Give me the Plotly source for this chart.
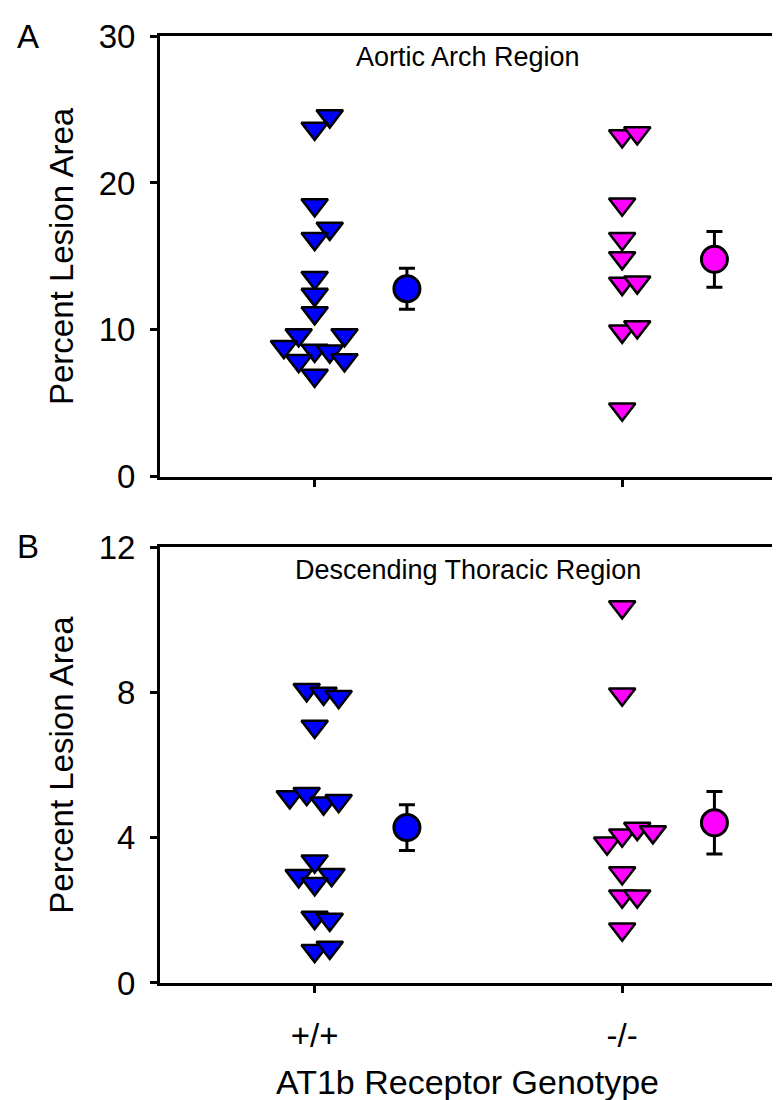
import plotly.graph_objects as go

# ---------------- data ----------------
genotypes = ["+/+", "-/-"]
genotype_pos = [1, 2]
mean_offset = 0.3

# Panel A: Aortic Arch Region (percent lesion area)
arch_wt = [24.55, 23.7, 18.5, 16.9, 16.2, 13.55, 12.4, 11.15, 9.65, 9.65, 8.85, 8.6, 8.55, 7.9, 7.95, 6.9]
arch_wt_jitter = [0.049, 0, 0, 0.049, 0, 0, 0, 0, -0.052, 0.097, -0.1, 0, 0.049, -0.052, 0.097, 0]
arch_ko = [23.2, 23.4, 18.55, 16.2, 14.9, 13.15, 13.25, 9.9, 10.2, 4.6]
arch_ko_jitter = [0, 0.049, 0, 0, 0, 0, 0.049, 0, 0.049, 0]
arch_mean = [12.8, 14.8]
arch_sem = [1.4, 1.9]

# Panel B: Descending Thoracic Region
thor_wt = [8.07, 7.97, 7.88, 7.06, 5.12, 5.21, 4.95, 5.02, 3.35, 2.95, 2.98, 2.73, 1.8, 1.75, 0.89, 0.98]
thor_wt_jitter = [-0.026, 0.029, 0.078, 0, -0.081, -0.026, 0.029, 0.078, 0, -0.052, 0.055, 0, 0, 0.049, 0, 0.049]
thor_ko = [10.35, 7.95, 3.85, 4.07, 4.25, 4.16, 3.03, 2.39, 2.39, 1.48]
thor_ko_jitter = [0, 0, -0.049, 0, 0.049, 0.1, 0, 0, 0.049, 0]
thor_mean = [4.28, 4.41]
thor_sem = [0.63, 0.86]

colors = ["#0000FF", "#FF00FF"]
FONT = "Arial, 'Liberation Sans', sans-serif"

fig = go.Figure()

def add_panel(xa, ya, wt, wtj, ko, koj, means, sems):
    for vals, jit, pos, col in [(wt, wtj, genotype_pos[0], colors[0]),
                                (ko, koj, genotype_pos[1], colors[1])]:
        fig.add_trace(go.Scatter(
            x=[pos + j for j in jit], y=vals, mode="markers",
            xaxis=xa, yaxis=ya, showlegend=False,
            marker=dict(symbol="triangle-down", size=23, color=col,
                        line=dict(color="black", width=2.5))))
    for i in range(2):
        fig.add_trace(go.Scatter(
            x=[genotype_pos[i] + mean_offset], y=[means[i]], mode="markers",
            xaxis=xa, yaxis=ya, showlegend=False,
            error_y=dict(type="data", array=[sems[i]], color="black",
                         thickness=3, width=8),
            marker=dict(symbol="circle", size=26, color=colors[i],
                        line=dict(color="black", width=3))))

add_panel("x2", "y2", arch_wt, arch_wt_jitter, arch_ko, arch_ko_jitter, arch_mean, arch_sem)
add_panel("x", "y", thor_wt, thor_wt_jitter, thor_ko, thor_ko_jitter, thor_mean, thor_sem)

axis_common = dict(showline=True, linecolor="black", linewidth=3, mirror=True,
                   showgrid=False, zeroline=False, ticks="outside", ticklen=7,
                   tickwidth=3, tickcolor="black",
                   tickfont=dict(family=FONT, size=33, color="black"))

fig.update_layout(
    width=780, height=1100,
    margin=dict(l=152, r=10, t=19, b=125),
    paper_bgcolor="white", plot_bgcolor="white",
    font=dict(family=FONT, color="black"),
    xaxis=dict(axis_common, domain=[0, 1], anchor="y", range=[0.497, 2.497],
               tickvals=genotype_pos, ticktext=genotypes, ticklabelstandoff=14,
               title=dict(text="AT1b Receptor Genotype", standoff=18,
                          font=dict(family=FONT, size=34, color="black"))),
    yaxis=dict(axis_common, domain=[0, 0.4603], anchor="x", range=[0, 12],
               tickvals=[0, 4, 8, 12], ticklabelstandoff=8,
               title=dict(text="Percent Lesion Area", standoff=16,
                          font=dict(family=FONT, size=33, color="black"))),
    xaxis2=dict(axis_common, domain=[0, 1], anchor="y2", range=[0.497, 2.497],
                tickvals=genotype_pos, showticklabels=False),
    yaxis2=dict(axis_common, domain=[0.5345, 1], anchor="x2", range=[0, 30],
                tickvals=[0, 10, 20, 30], ticklabelstandoff=8,
                title=dict(text="Percent Lesion Area", standoff=16,
                           font=dict(family=FONT, size=33, color="black"))),
    annotations=[
        dict(text="Aortic Arch Region", xref="paper", yref="paper", x=0.5, y=0.978,
             xanchor="center", yanchor="middle", showarrow=False,
             font=dict(family=FONT, size=27, color="black")),
        dict(text="Descending Thoracic Region", xref="paper", yref="paper", x=0.5, y=0.4363,
             xanchor="center", yanchor="middle", showarrow=False,
             font=dict(family=FONT, size=27, color="black")),
        dict(text="A", xref="paper", yref="paper", x=-0.215, y=0.999,
             xanchor="center", yanchor="middle", showarrow=False,
             font=dict(family=FONT, size=33, color="black")),
        dict(text="B", xref="paper", yref="paper", x=-0.215, y=0.4613,
             xanchor="center", yanchor="middle", showarrow=False,
             font=dict(family=FONT, size=33, color="black")),
    ],
)

fig.write_html("out.html")
